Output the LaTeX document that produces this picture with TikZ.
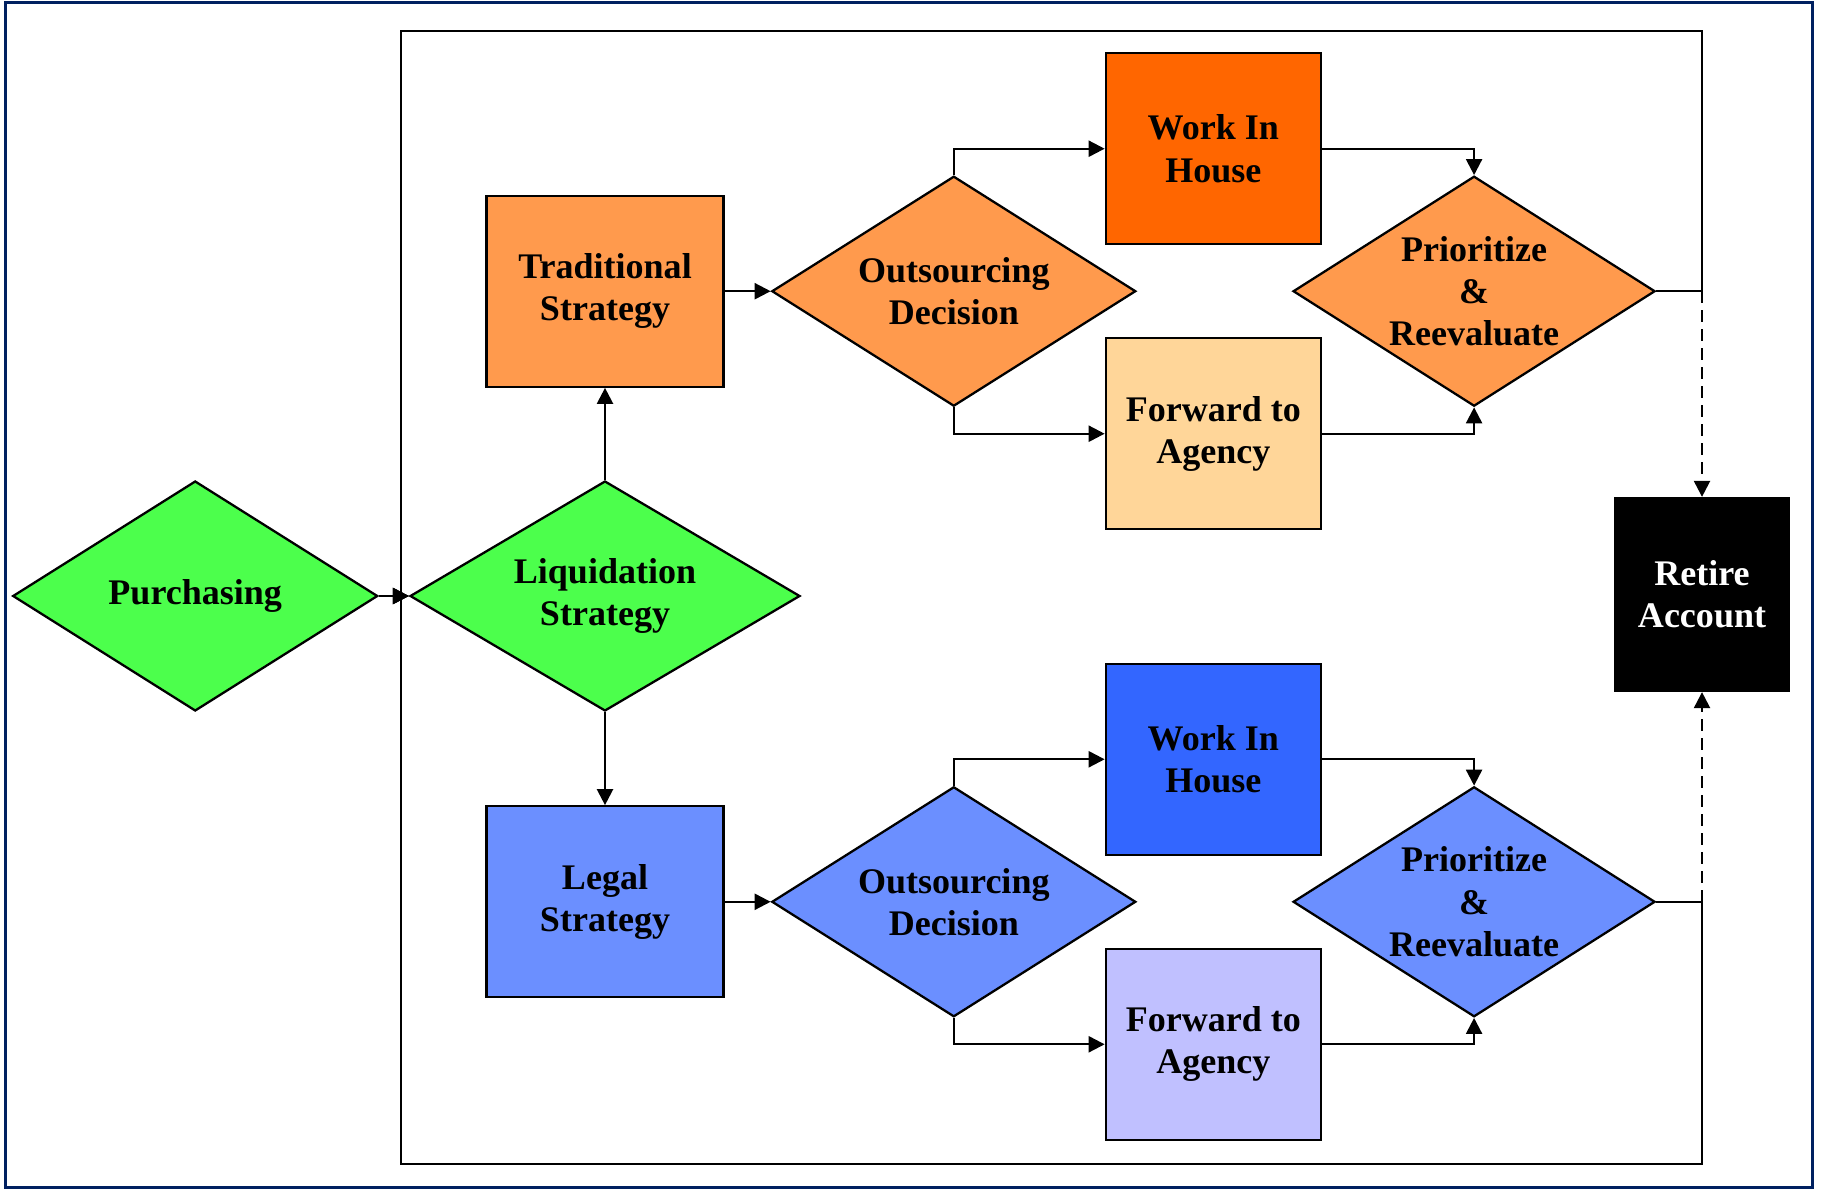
\documentclass[tikz,border=0pt]{standalone}
\usepackage{fontspec}
\setmainfont{Liberation Serif}
\usepackage{xcolor}
\definecolor{frame-navy}{HTML}{002060}
\definecolor{buy-green}{HTML}{4CFF4C}
\definecolor{trad-orange}{HTML}{FF9A4D}
\definecolor{house-orange}{HTML}{FF6600}
\definecolor{agency-peach}{HTML}{FFD699}
\definecolor{legal-blue}{HTML}{6B8FFF}
\definecolor{house-blue}{HTML}{3366FF}
\definecolor{agency-blue}{HTML}{C0C0FF}
\usetikzlibrary{arrows.meta, positioning, calc, shapes.geometric}

\begin{document}
\begin{tikzpicture}[
            every node/.style={font=\bfseries\fontsize{20.5}{24}\selectfont, line width=1.3pt, align=center},
            decision/.style={diamond, draw, inner sep=0pt, minimum width=7.28cm, minimum height=4.6cm, aspect=1.58},
            taskbox/.style={rectangle, draw, inner sep=0pt, minimum width=4.3cm, minimum height=3.82cm},
            stratbox/.style={taskbox, minimum width=4.74cm},
            arrow/.style={-{Triangle[length=0.32cm, width=0.32cm]}, line width=1.3pt},
            dasharrow/.style={arrow, dash pattern=on 0.24cm off 0.14cm}
        ]

        % --- FRAME ---
        \useasboundingbox (0,0) rectangle (36.44,-23.82);
        \draw[frame-navy, line width=0.06cm] (0.12,-0.06) rectangle (36.24,-23.74);

        % --- 1. ENTRY ---
        \node[decision, fill=buy-green, minimum width=7.8cm, aspect=1.7] (liq) at (12.1,-11.92) {Liquidation\\Strategy};
        \node[decision, fill=buy-green, minimum width=7.3cm, left=0.6cm of liq] (purch) {Purchasing};

        % --- 2. TRADITIONAL BRANCH ---
        \node[stratbox, fill=trad-orange, above=1.84cm of liq] (trad) {Traditional\\Strategy};
        \node[decision, fill=trad-orange, right=0.92cm of trad] (out1) {Outsourcing\\Decision};
        \node[taskbox, fill=house-orange] at ($(out1)+(5.19,2.85)$) (wih1) {Work In\\House};
        \node[taskbox, fill=agency-peach] at ($(out1)+(5.19,-2.85)$) (fwd1) {Forward to\\Agency};
        \node[decision, fill=trad-orange, minimum width=7.24cm, right=3.1cm of out1] (pr1) {Prioritize\\\&\\Reevaluate};

        % --- 3. LEGAL BRANCH ---
        \node[stratbox, fill=legal-blue, below=1.86cm of liq] (legal) {Legal\\Strategy};
        \node[decision, fill=legal-blue, right=0.92cm of legal] (out2) {Outsourcing\\Decision};
        \node[taskbox, fill=house-blue] at ($(out2)+(5.19,2.85)$) (wih2) {Work In\\House};
        \node[taskbox, fill=agency-blue] at ($(out2)+(5.19,-2.85)$) (fwd2) {Forward to\\Agency};
        \node[decision, fill=legal-blue, minimum width=7.24cm, right=3.1cm of out2] (pr2) {Prioritize\\\&\\Reevaluate};

        % --- 4. EXIT ---
        \node[rectangle, draw, fill=black, text=white, minimum width=3.48cm, minimum height=3.86cm] at (34.04,-11.89) (ret) {Retire\\Account};

        % --- LOOP CORNERS ---
        \coordinate (ltop) at ($(liq.west)+(-0.16,11.3)$);
        \coordinate (lbot) at ($(liq.west)+(-0.16,-11.36)$);
        \coordinate (rtop) at (ret.north |- ltop);
        \coordinate (rbot) at (ret.south |- lbot);

        % --- ROUTING ARROWS ---
        \draw[arrow] (purch.east) -- (liq.west);
        \draw[arrow] (liq.north) -- (trad.south);
        \draw[arrow] (liq.south) -- (legal.north);
        \draw[arrow] (trad.east) -- (out1.west);
        \draw[arrow] (out1.north) |- (wih1.west);
        \draw[arrow] (out1.south) |- (fwd1.west);
        \draw[arrow] (wih1.east) -| (pr1.north);
        \draw[arrow] (fwd1.east) -| (pr1.south);
        \draw[arrow] (legal.east) -- (out2.west);
        \draw[arrow] (out2.north) |- (wih2.west);
        \draw[arrow] (out2.south) |- (fwd2.west);
        \draw[arrow] (wih2.east) -| (pr2.north);
        \draw[arrow] (fwd2.east) -| (pr2.south);
        \draw[arrow] (pr1.east) -| (rtop) -- (ltop) |- (liq.west);
        \draw[arrow] (pr2.east) -| (rbot) -- (lbot) |- (liq.west);
        \draw[dasharrow] (pr1.east -| ret.north) -- (ret.north);
        \draw[dasharrow] (pr2.east -| ret.south) -- (ret.south);

        \end{tikzpicture}
\end{document}
